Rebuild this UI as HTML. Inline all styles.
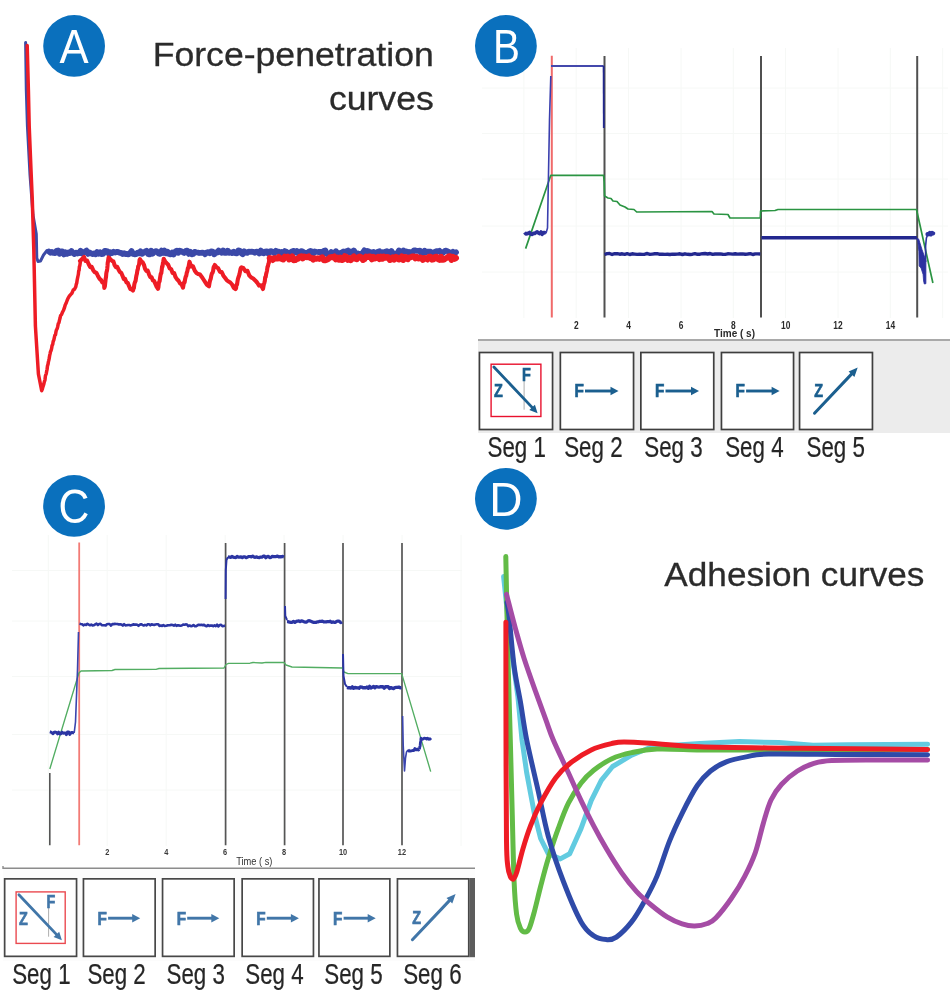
<!DOCTYPE html>
<html lang="en"><head><meta charset="utf-8"><title>Force-penetration and adhesion curves</title>
<style>
html,body{margin:0;padding:0;background:#fff;}
body{width:950px;height:998px;overflow:hidden;font-family:"Liberation Sans",sans-serif;}
svg{display:block;}
text{font-family:"Liberation Sans",sans-serif;}
.badge{fill:#fff;font-size:47.5px;text-anchor:middle;}
.ttl{fill:#2b2b2b;font-size:34px;stroke:#2b2b2b;stroke-width:0.3px;}
.seg{fill:#262626;font-size:29.2px;stroke:#262626;stroke-width:0.25px;}
.tick{fill:#2a2a2a;font-size:9.5px;font-weight:bold;text-anchor:middle;}
.ic{font-weight:bold;font-size:18px;stroke-width:0.7px;}
</style></head><body>
<svg width="950" height="998" viewBox="0 0 950 998">
<rect width="950" height="998" fill="#fff"/>

<g id="panelA" fill="none" stroke-linejoin="round" stroke-linecap="round">
<path d="M25.6 42.5 L26.3 90.0 L27.4 126.0 L30.0 175.0 L33.0 215.0 L36.3 234.0 L36.8 258.0 L38.0 261.5 L40.5 261.0 L43.5 255.0 L47.0 250.5 L49.0 252.5" stroke="#3d4ba6" stroke-width="3"/>
<path d="M49.0 251.5 L50.5 252.7 L52.0 252.0 L53.5 252.9 L55.0 253.0 L56.5 250.8 L58.0 250.5 L59.5 253.8 L61.0 251.5 L62.5 251.4 L64.0 254.5 L65.5 252.4 L67.0 253.8 L68.5 252.4 L70.0 253.0 L71.5 251.1 L73.0 253.0 L74.5 254.0 L76.0 252.6 L77.5 253.5 L79.0 253.2 L80.5 250.7 L82.0 253.5 L83.5 252.8 L85.0 251.7 L86.5 250.6 L88.0 253.9 L89.5 252.4 L91.1 253.4 L92.6 254.0 L94.1 253.3 L95.6 254.2 L97.1 252.1 L98.6 253.7 L100.1 252.3 L101.6 254.2 L103.1 254.0 L104.6 250.9 L106.1 251.0 L107.6 251.3 L109.1 254.3 L110.6 252.2 L112.1 253.0 L113.6 251.7 L115.1 252.5 L116.6 252.0 L118.1 251.9 L119.6 252.8 L121.1 252.8 L122.6 254.1 L124.1 253.2 L125.6 254.2 L127.1 253.9 L128.6 254.4 L130.1 253.1 L131.6 251.1 L133.1 253.9 L134.6 254.3 L136.1 254.1 L137.6 252.7 L139.1 253.3 L140.6 251.3 L142.1 253.8 L143.6 252.7 L145.1 251.6 L146.6 250.7 L148.1 253.9 L149.6 254.4 L151.1 250.8 L152.6 253.7 L154.1 252.1 L155.6 251.1 L157.1 251.6 L158.6 253.5 L160.1 253.9 L161.6 250.6 L163.1 252.9 L164.6 250.6 L166.1 253.3 L167.6 251.8 L169.1 254.0 L170.6 254.4 L172.2 252.5 L173.7 254.4 L175.2 251.7 L176.7 250.7 L178.2 252.8 L179.7 250.6 L181.2 251.2 L182.7 252.1 L184.2 252.9 L185.7 251.1 L187.2 250.6 L188.7 253.9 L190.2 251.7 L191.7 254.3 L193.2 254.0 L194.7 251.9 L196.2 252.3 L197.7 252.5 L199.2 253.0 L200.7 252.8 L202.2 252.7 L203.7 252.9 L205.2 254.2 L206.7 252.5 L208.2 252.1 L209.7 253.3 L211.2 251.4 L212.7 251.6 L214.2 254.3 L215.7 252.5 L217.2 252.6 L218.7 250.5 L220.2 252.1 L221.7 252.7 L223.2 250.5 L224.7 252.9 L226.2 252.9 L227.7 250.7 L229.2 252.9 L230.7 252.3 L232.2 253.1 L233.7 251.8 L235.2 253.2 L236.7 253.4 L238.2 250.5 L239.7 250.6 L241.2 253.1 L242.7 254.3 L244.2 251.4 L245.7 252.2 L247.2 252.8 L248.7 251.7 L250.2 251.9 L251.7 251.7 L253.3 251.9 L254.8 252.8 L256.3 251.6 L257.8 251.9 L259.3 253.5 L260.8 250.5 L262.3 252.7 L263.8 253.3 L265.3 251.6 L266.8 251.3 L268.3 253.6 L269.8 251.3 L271.3 251.1 L272.8 252.1 L274.3 253.2 L275.8 250.8 L277.3 251.7 L278.8 251.7 L280.3 253.7 L281.8 252.1 L283.3 253.8 L284.8 251.1 L286.3 251.7 L287.8 253.0 L289.3 253.9 L290.8 252.2 L292.3 251.3 L293.8 250.9 L295.3 252.5 L296.8 251.1 L298.3 253.6 L299.8 253.7 L301.3 251.1 L302.8 251.5 L304.3 253.6 L305.8 252.9 L307.3 253.6 L308.8 251.8 L310.3 250.9 L311.8 251.5 L313.3 253.5 L314.8 251.5 L316.3 251.8 L317.8 252.0 L319.3 252.0 L320.8 252.0 L322.3 254.0 L323.8 251.0 L325.3 250.4 L326.8 254.1 L328.3 253.9 L329.8 254.3 L331.3 252.1 L332.8 254.2 L334.4 254.1 L335.9 251.2 L337.4 253.3 L338.9 253.7 L340.4 253.0 L341.9 252.4 L343.4 251.5 L344.9 251.7 L346.4 251.3 L347.9 250.6 L349.4 252.7 L350.9 251.5 L352.4 253.6 L353.9 250.5 L355.4 254.0 L356.9 253.1 L358.4 254.0 L359.9 253.9 L361.4 253.9 L362.9 252.7 L364.4 250.4 L365.9 253.3 L367.4 251.0 L368.9 251.5 L370.4 253.0 L371.9 252.4 L373.4 252.0 L374.9 254.1 L376.4 252.8 L377.9 251.7 L379.4 251.3 L380.9 253.8 L382.4 252.2 L383.9 253.5 L385.4 251.7 L386.9 251.1 L388.4 252.5 L389.9 253.6 L391.4 251.0 L392.9 253.5 L394.4 254.0 L395.9 253.6 L397.4 253.6 L398.9 250.4 L400.4 252.8 L401.9 253.8 L403.4 250.5 L404.9 251.4 L406.4 251.4 L407.9 252.4 L409.4 252.0 L410.9 252.2 L412.4 253.4 L413.9 250.3 L415.5 250.5 L417.0 250.8 L418.5 250.8 L420.0 250.6 L421.5 254.2 L423.0 253.7 L424.5 250.7 L426.0 252.3 L427.5 251.6 L429.0 251.6 L430.5 251.7 L432.0 252.9 L433.5 252.7 L435.0 251.8 L436.5 251.1 L438.0 251.6 L439.5 250.8 L441.0 252.5 L442.5 253.2 L444.0 251.8 L445.5 250.6 L447.0 251.0 L448.5 251.8 L450.0 252.7 L451.5 253.4 L453.0 251.8 L454.5 253.5 L456.0 252.3" stroke="#3b49a8" stroke-width="5.8"/>
<path d="M27.2 45.5 L28.4 90.0 L29.2 126.0 L31.0 170.0 L32.3 200.0 L33.8 250.0 L35.4 326.0 L38.4 374.0 L41.7 390.7 L42.4 388.8 L43.0 386.6 L43.7 384.5 L44.3 381.8 L45.0 379.8 L45.4 376.1 L45.8 374.8 L46.3 373.6 L46.7 371.0 L47.1 369.3 L47.5 365.8 L48.0 364.4 L48.4 361.9 L48.8 360.4 L49.2 358.4 L49.7 355.3 L50.1 353.6 L50.5 351.6 L51.0 350.7 L51.6 348.5 L52.1 345.4 L52.7 344.5 L53.2 341.3 L53.8 340.2 L54.4 337.3 L54.9 335.1 L55.5 334.7 L56.0 331.5 L56.6 329.5 L57.1 328.9 L57.7 326.7 L58.3 323.6 L58.9 322.8 L59.5 320.1 L60.0 318.3 L60.6 315.5 L61.5 314.7 L62.5 312.1 L63.4 310.5 L64.3 308.2 L65.2 305.0 L66.2 303.0 L67.1 300.5 L68.0 298.4 L69.3 296.2 L70.6 294.6 L71.9 293.2 L73.2 290.1 L74.5 289.3 L75.8 286.7 L76.2 284.5 L76.7 283.2 L77.1 280.4 L77.6 277.9 L78.0 276.0 L78.4 274.2 L78.7 270.9 L79.1 270.4 L79.4 266.6 L79.8 265.7 L80.1 263.8 L80.5 261.0" stroke="#ee1c25" stroke-width="3.5"/>
<path d="M80.0 260.9 L82.0 259.1 L84.0 257.0 L85.5 261.0 L87.1 260.6 L88.6 264.0 L90.2 267.1 L91.7 266.8 L93.2 270.2 L94.8 272.3 L96.3 272.7 L97.8 275.7 L99.4 278.6 L100.9 279.9 L102.5 282.6 L104.0 283.0 L104.2 285.8 L104.3 287.9 L104.6 287.0 L104.9 286.1 L105.2 283.1 L105.4 281.5 L105.7 278.3 L106.0 277.3 L106.3 273.4 L106.6 271.9 L106.9 270.9 L107.2 269.0 L107.5 266.0 L107.7 263.0 L108.0 261.5 L108.3 259.3 L108.6 257.4 L112.0 260.9 L113.3 261.2 L114.6 265.1 L115.9 267.1 L117.2 266.8 L118.6 269.7 L119.9 272.0 L121.2 272.7 L122.5 275.8 L123.8 279.1 L125.1 278.9 L126.4 282.3 L127.8 282.9 L129.1 286.2 L130.4 289.1 L131.7 289.2 L133.0 290.6 L133.4 288.8 L133.9 288.0 L134.3 284.5 L134.8 282.6 L135.2 281.7 L135.6 280.8 L136.1 277.3 L136.5 275.2 L136.9 273.8 L137.4 270.2 L137.8 269.5 L138.2 266.3 L138.7 265.5 L139.1 264.4 L139.6 259.8 L140.0 259.2 L141.3 261.4 L142.6 262.2 L143.9 264.7 L145.1 268.8 L146.4 270.9 L147.7 270.6 L149.0 274.3 L150.3 277.1 L151.6 277.2 L152.9 280.4 L154.1 280.9 L155.4 283.9 L156.7 286.9 L158.0 288.8 L158.4 287.2 L158.8 283.2 L159.2 281.9 L159.6 281.2 L160.0 278.4 L160.4 275.9 L160.8 273.7 L161.3 273.3 L161.7 270.1 L162.1 266.4 L162.5 266.6 L162.9 263.2 L163.3 261.4 L163.7 258.7 L165.2 261.5 L166.7 263.2 L168.2 264.7 L169.6 268.3 L171.1 269.0 L172.6 273.0 L174.1 273.0 L175.6 277.2 L177.1 279.4 L178.5 280.6 L180.0 283.4 L181.5 284.2 L183.0 287.7 L183.5 284.8 L184.1 282.2 L184.6 282.3 L185.2 278.7 L185.7 276.6 L186.2 276.0 L186.8 272.6 L187.3 271.5 L187.9 268.1 L188.4 268.0 L189.0 264.3 L189.5 261.7 L191.2 266.5 L193.0 266.4 L194.8 270.7 L196.5 273.0 L198.2 274.1 L200.0 274.6 L201.8 276.9 L203.5 279.5 L205.2 282.1 L207.0 284.9 L209.0 286.3 L209.6 282.5 L210.2 279.9 L210.7 279.0 L211.3 275.7 L211.9 273.5 L212.5 272.8 L213.1 271.1 L213.6 267.3 L214.2 266.3 L214.8 265.0 L216.5 267.3 L218.2 268.3 L220.0 271.9 L221.7 272.0 L223.4 275.7 L225.2 278.0 L226.9 280.4 L228.6 281.5 L230.3 282.5 L232.1 284.5 L233.8 287.9 L235.5 289.1 L236.0 288.4 L236.5 284.8 L237.0 284.8 L237.5 281.2 L238.0 278.6 L238.5 277.1 L239.0 275.9 L239.5 274.2 L240.0 271.7 L240.5 269.1 L241.0 267.9 L241.5 267.3 L243.5 268.2 L245.4 271.3 L247.4 270.8 L249.3 275.6 L251.3 277.4 L253.2 278.5 L255.2 280.4 L257.1 282.5 L259.1 285.6 L261.0 285.3 L263.0 289.0 L263.4 286.7 L263.9 284.0 L264.3 283.1 L264.8 281.1 L265.2 277.3 L265.7 276.9 L266.1 274.2 L266.6 272.3 L267.0 270.6 L267.5 266.9 L267.9 266.4 L268.4 263.8 L268.8 263.1 L269.3 259.3 L269.7 258.0" stroke="#ee1c25" stroke-width="4.1"/>
<path d="M269.7 258.1 L271.2 258.5 L272.7 260.0 L274.2 258.2 L275.7 258.3 L277.2 258.6 L278.7 257.0 L280.2 258.3 L281.7 258.8 L283.2 259.5 L284.7 256.7 L286.2 257.5 L287.7 256.6 L289.2 259.5 L290.7 259.0 L292.2 256.4 L293.7 260.2 L295.2 260.1 L296.7 258.9 L298.2 258.7 L299.7 256.9 L301.3 256.3 L302.8 258.4 L304.3 256.5 L305.8 257.0 L307.3 257.2 L308.8 256.4 L310.3 258.1 L311.8 258.0 L313.3 259.6 L314.8 258.3 L316.3 258.8 L317.8 258.2 L319.3 258.9 L320.8 258.0 L322.3 257.3 L323.8 260.2 L325.3 260.2 L326.8 259.6 L328.3 259.0 L329.8 257.5 L331.3 257.1 L332.8 257.4 L334.3 256.5 L335.8 259.3 L337.3 257.8 L338.8 259.6 L340.3 257.7 L341.8 260.0 L343.3 259.6 L344.8 256.2 L346.3 257.0 L347.8 259.8 L349.3 258.1 L350.8 260.1 L352.3 257.8 L353.8 256.5 L355.3 258.7 L356.8 259.3 L358.3 257.2 L359.8 256.5 L361.3 257.5 L362.9 260.0 L364.4 259.2 L365.9 256.6 L367.4 257.1 L368.9 256.5 L370.4 256.4 L371.9 259.3 L373.4 256.8 L374.9 258.4 L376.4 257.9 L377.9 256.9 L379.4 259.1 L380.9 256.6 L382.4 258.7 L383.9 256.6 L385.4 257.8 L386.9 257.0 L388.4 257.2 L389.9 260.0 L391.4 259.3 L392.9 257.3 L394.4 259.6 L395.9 256.9 L397.4 257.7 L398.9 259.5 L400.4 258.7 L401.9 256.5 L403.4 260.0 L404.9 256.9 L406.4 257.1 L407.9 259.2 L409.4 257.4 L410.9 257.3 L412.4 256.4 L413.9 256.4 L415.4 258.4 L416.9 257.0 L418.4 258.5 L419.9 257.5 L421.4 257.9 L422.9 259.9 L424.4 258.0 L426.0 258.3 L427.5 259.5 L429.0 256.8 L430.5 256.7 L432.0 259.7 L433.5 259.3 L435.0 257.0 L436.5 256.8 L438.0 259.0 L439.5 259.8 L441.0 256.8 L442.5 259.8 L444.0 259.5 L445.5 258.4 L447.0 257.7 L448.5 256.4 L450.0 256.2 L451.5 259.9 L453.0 257.0 L454.5 258.8 L456.0 258.0" stroke="#ee1c25" stroke-width="6"/>
</g>
<circle cx="74.1" cy="45.95" r="30.9" fill="#0a70bd"/>
<text class="badge" transform="translate(74.1 63.050000000000004) scale(0.92 1)">A</text>
<text class="ttl" transform="translate(433.8 66.3) scale(1.048 1)" text-anchor="end">Force-penetration</text>
<text class="ttl" transform="translate(433.8 109.8) scale(1.048 1)" text-anchor="end">curves</text>
<g stroke="#f6f8f6" stroke-width="1">
<line x1="523.9" y1="48" x2="523.9" y2="318"/>
<line x1="576.2" y1="48" x2="576.2" y2="318"/>
<line x1="628.6" y1="48" x2="628.6" y2="318"/>
<line x1="681.0" y1="48" x2="681.0" y2="318"/>
<line x1="733.3" y1="48" x2="733.3" y2="318"/>
<line x1="785.6" y1="48" x2="785.6" y2="318"/>
<line x1="838.0" y1="48" x2="838.0" y2="318"/>
<line x1="890.3" y1="48" x2="890.3" y2="318"/>
<line x1="942.7" y1="48" x2="942.7" y2="318"/>
<line x1="482" y1="88" x2="948" y2="88"/>
<line x1="482" y1="133.5" x2="948" y2="133.5"/>
<line x1="482" y1="179" x2="948" y2="179"/>
<line x1="482" y1="226" x2="948" y2="226"/>
<line x1="482" y1="272" x2="948" y2="272"/>
</g>
<g id="panelB" fill="none" stroke-linejoin="round">
<line x1="604.5" y1="56" x2="604.5" y2="317.6" stroke="#505050" stroke-width="2"/>
<line x1="761.0" y1="56" x2="761.0" y2="317.6" stroke="#505050" stroke-width="2"/>
<line x1="917.2" y1="56" x2="917.2" y2="317.6" stroke="#505050" stroke-width="2"/>
<line x1="551.8" y1="55.8" x2="551.8" y2="317.6" stroke="#f06a6a" stroke-width="2"/>
<path d="M525.6 248.6 L550.8 175.3 L603.6 175.3 L604.2 182.0 L604.6 196.0 L608.0 198.0 L611.0 198.5 L613.0 201.0 L617.0 201.5 L620.0 205.0 L625.0 207.0 L628.0 209.0 L634.0 209.5 L636.7 212.0 L712.0 211.5 L714.0 214.0 L728.0 214.5 L730.0 218.0 L760.3 218.0 L760.6 211.0 L775.0 210.5 L778.0 209.5 L916.5 209.5 L932.9 283.0" stroke="#2a9442" stroke-width="1.7"/>
<path d="M524.6 232.3 L525.9 234.0 L527.1 233.8 L528.4 233.3 L529.6 232.5 L530.9 234.3 L532.2 234.4 L533.4 233.4 L534.7 233.4 L535.9 232.6 L537.2 231.8 L538.4 233.0 L539.7 233.7 L541.0 232.0 L542.2 234.3 L543.5 232.5 L544.7 232.5 L546.0 233.4" stroke="#2a2f9a" stroke-width="3.6"/>
<path d="M546 233.4 L547.5 228 L549.5 120 L550.8 76" stroke="#3a3fae" stroke-width="1.6"/>
<path d="M551 66 L603.6 66" stroke="#4448ac" stroke-width="2.2"/>
<path d="M603.6 65.7 L603.8 128" stroke="#23288f" stroke-width="1.8"/>
<path d="M604.6 254.5 L607.1 253.6 L609.6 253.5 L612.1 254.5 L614.6 253.7 L617.2 253.6 L619.7 254.2 L622.2 253.8 L624.7 254.4 L627.2 253.7 L629.7 254.5 L632.2 253.8 L634.7 254.1 L637.2 254.4 L639.8 254.2 L642.3 254.4 L644.8 254.2 L647.3 253.5 L649.8 254.4 L652.3 254.1 L654.8 253.8 L657.3 253.7 L659.8 254.3 L662.4 254.1 L664.9 254.4 L667.4 254.3 L669.9 254.5 L672.4 254.1 L674.9 254.2 L677.4 254.1 L679.9 253.8 L682.5 254.5 L685.0 253.8 L687.5 254.3 L690.0 254.5 L692.5 254.2 L695.0 253.6 L697.5 254.3 L700.0 254.2 L702.5 253.7 L705.1 253.5 L707.6 254.0 L710.1 253.5 L712.6 254.4 L715.1 254.0 L717.6 254.0 L720.1 253.9 L722.6 254.2 L725.1 254.4 L727.7 253.8 L730.2 253.9 L732.7 254.1 L735.2 253.8 L737.7 254.1 L740.2 254.0 L742.7 253.9 L745.2 254.2 L747.7 254.0 L750.3 253.6 L752.8 254.5 L755.3 253.9 L757.8 253.9 L760.3 254.0" stroke="#23288f" stroke-width="3.4"/>
<path d="M761.5 237.8 L917 237.8" stroke="#23288f" stroke-width="3.4"/>
<path d="M917.4 238 L918.9 251.7 L919.2 266 L921 268 L923.1 274.5 L923.6 281 L924.3 284 L925.9 283.7 L925.9 260.6 L922 249.5 L918.9 239.6 Z" fill="#2b30a0" stroke="#2b30a0" stroke-width="0.8"/>
<path d="M925.6 262 L925.6 246 L926.4 238 L928 234" stroke="#2d33a0" stroke-width="1.6"/>
<path d="M927.5 234.1 L928.6 234.3 L929.8 233.1 L930.9 234.4 L932.1 233.0 L933.2 233.4" stroke="#2d33a0" stroke-width="4.2" stroke-linecap="round"/>
</g>
<text class="tick" transform="translate(576.3 328.5) scale(0.8 1)" style="font-size:10.5px">2</text>
<text class="tick" transform="translate(628.6 328.5) scale(0.8 1)" style="font-size:10.5px">4</text>
<text class="tick" transform="translate(681.0 328.5) scale(0.8 1)" style="font-size:10.5px">6</text>
<text class="tick" transform="translate(733.3 328.5) scale(0.8 1)" style="font-size:10.5px">8</text>
<text class="tick" transform="translate(785.7 328.5) scale(0.8 1)" style="font-size:10.5px">10</text>
<text class="tick" transform="translate(838.0 328.5) scale(0.8 1)" style="font-size:10.5px">12</text>
<text class="tick" transform="translate(890.4 328.5) scale(0.8 1)" style="font-size:10.5px">14</text>
<text class="tick" x="734.5" y="337.4" style="font-size:10px">Time ( s)</text>
<rect x="478" y="339" width="472" height="94" fill="#ececec"/>
<rect x="478" y="339" width="472" height="2" fill="#a9a9a9"/>
<rect x="479.45" y="352.5" width="73.10" height="77" fill="#fff" stroke="#3e3e3e" stroke-width="1.7"/>
<rect x="560.35" y="352.5" width="73.20" height="77" fill="#fff" stroke="#3e3e3e" stroke-width="1.7"/>
<rect x="640.85" y="352.5" width="72.90" height="77" fill="#fff" stroke="#3e3e3e" stroke-width="1.7"/>
<rect x="721.45" y="352.5" width="72.10" height="77" fill="#fff" stroke="#3e3e3e" stroke-width="1.7"/>
<rect x="799.55" y="352.5" width="72.90" height="77" fill="#fff" stroke="#3e3e3e" stroke-width="1.7"/>
<rect x="491.1" y="364.2" width="49.8" height="52.3" fill="none" stroke="#e8112d" stroke-width="1.4"/>
<line x1="524.1" y1="380.2" x2="524.1" y2="409.7" stroke="#999" stroke-width="0.8"/>
<line x1="493.9" y1="367.0" x2="532.1" y2="407.4" stroke="#1b5f8f" stroke-width="2.8" stroke-linecap="round"/>
<path d="M537.6 413.2 L529.3 410.0 L534.9 404.8 Z" fill="#1b5f8f"/>
<text class="ic" fill="#1b5f8f" stroke="#1b5f8f" transform="translate(494.1 397.4) scale(0.8 1)">Z</text>
<text class="ic" fill="#1b5f8f" stroke="#1b5f8f" transform="translate(522.1 380.6) scale(0.8 1)">F</text>
<text class="ic" fill="#1b5f8f" stroke="#1b5f8f" transform="translate(574.5 397.4) scale(0.85 1)">F</text>
<line x1="585.0" y1="391.0" x2="611.5" y2="391.0" stroke="#1b5f8f" stroke-width="2.9"/>
<path d="M618.5 391.0 L610.5 386.8 L610.5 395.2 Z" fill="#1b5f8f"/>
<text class="ic" fill="#1b5f8f" stroke="#1b5f8f" transform="translate(655.0 397.4) scale(0.85 1)">F</text>
<line x1="665.5" y1="391.0" x2="692.0" y2="391.0" stroke="#1b5f8f" stroke-width="2.9"/>
<path d="M699.0 391.0 L691.0 386.8 L691.0 395.2 Z" fill="#1b5f8f"/>
<text class="ic" fill="#1b5f8f" stroke="#1b5f8f" transform="translate(735.6 397.4) scale(0.85 1)">F</text>
<line x1="746.1" y1="391.0" x2="772.6" y2="391.0" stroke="#1b5f8f" stroke-width="2.9"/>
<path d="M779.6 391.0 L771.6 386.8 L771.6 395.2 Z" fill="#1b5f8f"/>
<line x1="814.5" y1="413.2" x2="851.5" y2="374.1" stroke="#1b5f8f" stroke-width="3" stroke-linecap="round"/>
<path d="M857.7 367.6 L854.4 376.9 L848.6 371.4 Z" fill="#1b5f8f"/>
<text class="ic" fill="#1b5f8f" stroke="#1b5f8f" transform="translate(814.3 397.4) scale(0.8 1)">Z</text>
<text class="seg" transform="translate(487.5 457.3) scale(0.765 1)">Seg 1</text>
<text class="seg" transform="translate(564.2 457.3) scale(0.765 1)">Seg 2</text>
<text class="seg" transform="translate(644.3 457.3) scale(0.765 1)">Seg 3</text>
<text class="seg" transform="translate(725.2 457.3) scale(0.765 1)">Seg 4</text>
<text class="seg" transform="translate(806.5 457.3) scale(0.765 1)">Seg 5</text>
<circle cx="505.9" cy="45.95" r="30.9" fill="#0a70bd"/>
<text class="badge" transform="translate(506.4 62.9) scale(0.85 1)">B</text>
<g stroke="#f6f8f6" stroke-width="1">
<line x1="48.3" y1="535" x2="48.3" y2="846"/>
<line x1="107.2" y1="535" x2="107.2" y2="846"/>
<line x1="166.2" y1="535" x2="166.2" y2="846"/>
<line x1="225.2" y1="535" x2="225.2" y2="846"/>
<line x1="284.1" y1="535" x2="284.1" y2="846"/>
<line x1="343.1" y1="535" x2="343.1" y2="846"/>
<line x1="402.0" y1="535" x2="402.0" y2="846"/>
<line x1="461.0" y1="535" x2="461.0" y2="846"/>
<line x1="12" y1="570.5" x2="462" y2="570.5"/>
<line x1="12" y1="621" x2="462" y2="621"/>
<line x1="12" y1="676.5" x2="462" y2="676.5"/>
<line x1="12" y1="734.5" x2="462" y2="734.5"/>
<line x1="12" y1="790" x2="462" y2="790"/>
</g>
<g id="panelC" fill="none" stroke-linejoin="round">
<line x1="225.6" y1="543" x2="225.6" y2="845.2" stroke="#555" stroke-width="1.7"/>
<line x1="284.6" y1="543" x2="284.6" y2="845.2" stroke="#555" stroke-width="1.7"/>
<line x1="343.0" y1="543" x2="343.0" y2="845.2" stroke="#555" stroke-width="1.7"/>
<line x1="402.0" y1="543" x2="402.0" y2="845.2" stroke="#555" stroke-width="1.7"/>
<line x1="49.8" y1="773" x2="49.8" y2="845.2" stroke="#555" stroke-width="1.6"/>
<line x1="79.2" y1="542.6" x2="79.2" y2="845.2" stroke="#f27b76" stroke-width="1.8"/>
<path d="M49.8 769.0 L78.9 673.0 L81.0 671.0 L112.0 670.5 L115.0 669.5 L156.0 669.3 L159.0 668.5 L224.0 668.0 L226.0 664.5 L228.5 663.3 L250.0 663.2 L253.0 662.5 L262.0 663.0 L266.0 662.3 L284.0 662.5 L286.0 665.0 L292.0 667.0 L342.5 668.0 L344.0 672.0 L348.0 673.6 L401.7 673.6 L430.7 771.6" stroke="#52ad62" stroke-width="1.35"/>
<path d="M49.8 731.8 L50.9 732.1 L52.0 732.9 L53.1 733.7 L54.2 732.2 L55.3 732.1 L56.5 732.4 L57.6 733.9 L58.7 732.2 L59.8 733.9 L60.9 733.7 L62.0 732.2 L63.1 733.3 L64.2 733.1 L65.3 733.0 L66.4 734.6 L67.5 732.1 L68.7 731.9 L69.8 734.4 L70.9 732.9 L72.0 732.4 L73.1 732.7 L74.2 733.2" stroke="#2b35a3" stroke-width="3"/>
<path d="M74.2 733 L75.5 722 L77.5 670 L78.5 632" stroke="#3a44ae" stroke-width="1.6"/>
<path d="M79.5 623.7 L80.8 624.0 L82.1 624.2 L83.4 625.3 L84.7 624.5 L86.1 624.9 L87.4 623.8 L88.7 624.6 L90.0 625.2 L91.3 624.6 L92.6 625.4 L93.9 625.3 L95.2 624.4 L96.5 623.7 L97.9 625.1 L99.2 624.0 L100.5 623.8 L101.8 625.1 L103.1 625.3 L104.4 625.3 L105.7 625.5 L107.0 624.2 L108.3 624.0 L109.6 624.0 L111.0 625.6 L112.3 624.0 L113.6 624.1 L114.9 623.9 L116.2 624.0 L117.5 624.0 L118.8 624.5 L120.1 624.2 L121.4 624.5 L122.8 625.6 L124.1 624.2 L125.4 625.4 L126.7 625.3 L128.0 625.0 L129.3 625.0 L130.6 625.4 L131.9 625.1 L133.2 624.4 L134.6 624.6 L135.9 624.5 L137.2 624.8 L138.5 625.8 L139.8 624.8 L141.1 624.2 L142.4 624.9 L143.7 625.5 L145.0 624.9 L146.4 625.4 L147.7 624.3 L149.0 624.2 L150.3 625.3 L151.6 624.2 L152.9 624.7 L154.2 624.9 L155.5 624.5 L156.8 624.3 L158.1 624.2 L159.5 625.9 L160.8 625.5 L162.1 625.9 L163.4 625.1 L164.7 626.0 L166.0 625.8 L167.3 625.4 L168.6 625.2 L169.9 625.2 L171.3 624.7 L172.6 625.0 L173.9 625.6 L175.2 624.7 L176.5 625.9 L177.8 625.3 L179.1 625.4 L180.4 625.8 L181.7 625.5 L183.1 624.6 L184.4 624.8 L185.7 624.4 L187.0 624.5 L188.3 626.1 L189.6 625.5 L190.9 626.2 L192.2 625.9 L193.5 625.0 L194.9 626.2 L196.2 626.1 L197.5 625.3 L198.8 624.7 L200.1 625.1 L201.4 624.8 L202.7 625.2 L204.0 624.7 L205.3 625.8 L206.6 626.3 L208.0 625.0 L209.3 626.0 L210.6 625.6 L211.9 625.5 L213.2 626.2 L214.5 625.3 L215.8 626.1 L217.1 624.7 L218.4 626.4 L219.8 625.0 L221.1 624.7 L222.4 626.3 L223.7 626.0 L225.0 625.6" stroke="#2b35a3" stroke-width="2.6"/>
<path d="M225.6 599 L225.8 570 L226.5 560 L228 557" stroke="#2b35a3" stroke-width="2"/>
<path d="M228.0 556.9 L229.3 557.0 L230.6 557.4 L231.9 556.4 L233.2 557.1 L234.5 557.5 L235.8 557.6 L237.1 556.3 L238.4 557.1 L239.7 557.1 L241.0 556.9 L242.3 557.7 L243.6 556.9 L244.9 556.8 L246.2 557.7 L247.5 557.1 L248.8 556.5 L250.1 556.5 L251.4 556.9 L252.7 556.1 L254.0 557.1 L255.3 557.3 L256.7 556.8 L258.0 557.5 L259.3 557.7 L260.6 557.0 L261.9 557.2 L263.2 556.2 L264.5 556.1 L265.8 557.8 L267.1 556.6 L268.4 556.4 L269.7 557.7 L271.0 557.4 L272.3 556.3 L273.6 556.6 L274.9 556.5 L276.2 556.6 L277.5 556.1 L278.8 557.0 L280.1 556.6 L281.4 556.8 L282.7 556.4 L284.0 557.0" stroke="#2b35a3" stroke-width="3.2"/>
<path d="M285 606 L285.3 616 L287 620" stroke="#2b35a3" stroke-width="2"/>
<path d="M287.0 621.6 L288.3 621.7 L289.6 622.2 L290.9 622.3 L292.2 622.3 L293.5 621.3 L294.9 622.4 L296.2 621.4 L297.5 621.2 L298.8 620.8 L300.1 621.6 L301.4 620.9 L302.7 621.1 L304.0 621.8 L305.3 622.2 L306.6 622.1 L308.0 620.8 L309.3 620.7 L310.6 621.1 L311.9 621.7 L313.2 622.3 L314.5 622.3 L315.8 622.5 L317.1 621.8 L318.4 621.9 L319.7 621.3 L321.0 621.3 L322.4 621.1 L323.7 621.8 L325.0 621.9 L326.3 621.9 L327.6 621.5 L328.9 621.6 L330.2 621.2 L331.5 622.4 L332.8 621.9 L334.1 622.3 L335.5 622.4 L336.8 621.3 L338.1 621.0 L339.4 621.4 L340.7 622.6 L342.0 621.8" stroke="#2b35a3" stroke-width="3.2"/>
<path d="M343 654 L343.5 676 L345 684 L347 687" stroke="#2b35a3" stroke-width="2"/>
<path d="M347.0 687.4 L348.3 687.8 L349.7 687.8 L351.0 688.1 L352.3 686.9 L353.6 688.3 L355.0 687.5 L356.3 687.8 L357.6 687.9 L359.0 688.2 L360.3 686.9 L361.6 687.1 L363.0 687.8 L364.3 687.6 L365.6 687.9 L366.9 687.1 L368.3 688.3 L369.6 686.4 L370.9 687.9 L372.3 687.2 L373.6 686.5 L374.9 687.8 L376.2 686.6 L377.6 686.9 L378.9 687.1 L380.2 686.8 L381.6 686.8 L382.9 686.6 L384.2 688.2 L385.5 686.7 L386.9 686.8 L388.2 686.7 L389.5 688.4 L390.9 687.6 L392.2 688.2 L393.5 688.5 L394.9 687.6 L396.2 687.4 L397.5 687.4 L398.8 687.1 L400.2 687.8 L401.5 687.6" stroke="#2b35a3" stroke-width="3.4"/>
<path d="M402.6 716 L403.2 745 L404.5 771 L405.5 758 L406.5 752 L408 750" stroke="#3a44ae" stroke-width="1.6"/>
<path d="M408.0 749.6 L409.1 751.1 L410.3 751.0 L411.4 750.9 L412.6 750.5 L413.8 750.7 L414.9 748.5 L416.1 750.0 L417.2 749.0 L418.4 750.1 L419.5 749.5" stroke="#2b35a3" stroke-width="2.8"/>
<path d="M419.5 749.4 L419.7 746.9 L419.8 747.1 L420.0 746.5 L420.2 745.4 L420.3 743.5 L420.5 742.6 L420.7 740.9 L420.8 740.2 L421.0 738.1 L422.1 739.3 L423.2 739.0 L424.3 738.1 L425.4 738.3 L426.6 739.0 L427.7 738.2 L428.8 739.3 L429.9 739.2 L431.0 738.0" stroke="#2b35a3" stroke-width="2.8"/>
</g>
<text class="tick" transform="translate(107.2 854.8) scale(0.78 1)" style="fill:#3a3a3a;font-size:9.5px">2</text>
<text class="tick" transform="translate(166.2 854.8) scale(0.78 1)" style="fill:#3a3a3a;font-size:9.5px">4</text>
<text class="tick" transform="translate(225.1 854.8) scale(0.78 1)" style="fill:#3a3a3a;font-size:9.5px">6</text>
<text class="tick" transform="translate(284.1 854.8) scale(0.78 1)" style="fill:#3a3a3a;font-size:9.5px">8</text>
<text class="tick" transform="translate(343.0 854.8) scale(0.78 1)" style="fill:#3a3a3a;font-size:9.5px">10</text>
<text class="tick" transform="translate(401.9 854.8) scale(0.78 1)" style="fill:#3a3a3a;font-size:9.5px">12</text>
<text class="tick" transform="translate(254.3 865.3) scale(0.93 1)" style="font-size:10px;fill:#333;font-weight:normal">Time ( s)</text>
<path d="M3 866 L3 868.3 L475 868.3" fill="none" stroke="#8c8c8c" stroke-width="1.4"/>
<rect x="3" y="869" width="472" height="92" fill="#fcfcfc"/>
<rect x="4.65" y="878.85" width="71.90" height="77.5" fill="#fff" stroke="#474747" stroke-width="1.7"/>
<rect x="83.45" y="878.85" width="71.70" height="77.5" fill="#fff" stroke="#474747" stroke-width="1.7"/>
<rect x="162.55" y="878.85" width="71.60" height="77.5" fill="#fff" stroke="#474747" stroke-width="1.7"/>
<rect x="242.15" y="878.85" width="71.30" height="77.5" fill="#fff" stroke="#474747" stroke-width="1.7"/>
<rect x="318.95" y="878.85" width="70.90" height="77.5" fill="#fff" stroke="#474747" stroke-width="1.7"/>
<rect x="397.45" y="878.85" width="71.30" height="77.5" fill="#fff" stroke="#474747" stroke-width="1.7"/>
<rect x="469.4" y="878" width="5.6" height="79.2" fill="#5c5c5c"/>
<rect x="16.1" y="891.9" width="49.1" height="51.5" fill="none" stroke="#ea4a50" stroke-width="1.4"/>
<line x1="48.6" y1="907.7" x2="48.6" y2="936.7" stroke="#999" stroke-width="0.8"/>
<line x1="18.9" y1="894.7" x2="56.4" y2="934.4" stroke="#4176a8" stroke-width="2.8" stroke-linecap="round"/>
<path d="M61.9 940.2 L53.6 937.0 L59.2 931.7 Z" fill="#4176a8"/>
<text class="ic" fill="#4176a8" stroke="#4176a8" transform="translate(19.1 924.6) scale(0.8 1)">Z</text>
<text class="ic" fill="#4176a8" stroke="#4176a8" transform="translate(46.6 908.1) scale(0.8 1)">F</text>
<text class="ic" fill="#4176a8" stroke="#4176a8" transform="translate(97.6 924.6) scale(0.85 1)">F</text>
<line x1="108.1" y1="918.2" x2="133.2" y2="918.2" stroke="#4176a8" stroke-width="2.9"/>
<path d="M140.2 918.2 L132.2 914.0 L132.2 922.4 Z" fill="#4176a8"/>
<text class="ic" fill="#4176a8" stroke="#4176a8" transform="translate(176.7 924.6) scale(0.85 1)">F</text>
<line x1="187.2" y1="918.2" x2="212.3" y2="918.2" stroke="#4176a8" stroke-width="2.9"/>
<path d="M219.3 918.2 L211.3 914.0 L211.3 922.4 Z" fill="#4176a8"/>
<text class="ic" fill="#4176a8" stroke="#4176a8" transform="translate(256.3 924.6) scale(0.85 1)">F</text>
<line x1="266.8" y1="918.2" x2="291.9" y2="918.2" stroke="#4176a8" stroke-width="2.9"/>
<path d="M298.9 918.2 L290.9 914.0 L290.9 922.4 Z" fill="#4176a8"/>
<text class="ic" fill="#4176a8" stroke="#4176a8" transform="translate(333.1 924.6) scale(0.85 1)">F</text>
<line x1="343.6" y1="918.2" x2="368.7" y2="918.2" stroke="#4176a8" stroke-width="2.9"/>
<path d="M375.7 918.2 L367.7 914.0 L367.7 922.4 Z" fill="#4176a8"/>
<line x1="412.4" y1="939.7" x2="449.4" y2="900.6" stroke="#4176a8" stroke-width="3" stroke-linecap="round"/>
<path d="M455.6 894.1 L452.3 903.4 L446.5 897.9 Z" fill="#4176a8"/>
<text class="ic" fill="#4176a8" stroke="#4176a8" transform="translate(412.2 923.9) scale(0.8 1)">Z</text>
<text class="seg" transform="translate(12.2 983.6) scale(0.765 1)">Seg 1</text>
<text class="seg" transform="translate(87.4 983.6) scale(0.765 1)">Seg 2</text>
<text class="seg" transform="translate(166.5 983.6) scale(0.765 1)">Seg 3</text>
<text class="seg" transform="translate(245.3 983.6) scale(0.765 1)">Seg 4</text>
<text class="seg" transform="translate(324.3 983.6) scale(0.765 1)">Seg 5</text>
<text class="seg" transform="translate(403.2 983.6) scale(0.765 1)">Seg 6</text>
<circle cx="74.05" cy="505.95" r="30.9" fill="#0a70bd"/>
<text class="badge" transform="translate(74.05 523.05) scale(0.9 1)">C</text>
<g id="panelD" fill="none" stroke-linejoin="round" stroke-linecap="round" stroke-width="5">
<path d="M503.6 576.6 L510.3 641.0 L517.9 696.6 L522.0 740.0 L526.7 772.8 L534.3 813.3 L540.6 838.5 L548.2 853.7 L560.3 858.9 L569.7 853.7 L581.1 828.4 L591.2 800.6 L601.3 780.4 L612.6 766.5 L631.6 755.2 L651.8 746.8 L700.0 743.4 L739.5 741.6 L779.0 742.6 L813.0 745.3 L847.4 744.7 L927.6 744.2" stroke="#62cbe0"/>
<path d="M505.8 556.6 C506.2 573.8 507.2 629.4 508.0 660.0 C508.8 690.6 509.6 714.0 510.3 740.0 C511.0 766.0 511.7 792.2 512.3 815.8 C512.9 839.4 513.4 865.1 514.1 881.5 C514.8 897.9 515.6 906.5 516.6 914.3 C517.6 922.1 519.0 925.2 520.4 928.2 C521.8 931.2 523.5 932.0 525.0 932.0 C526.5 932.0 527.8 931.6 529.3 928.2 C530.8 924.8 532.4 918.8 534.3 911.8 C536.2 904.8 538.3 895.4 540.6 886.5 C542.9 877.6 545.2 868.4 548.2 858.7 C551.2 849.0 554.9 837.6 558.3 828.4 C561.7 819.1 564.6 810.8 568.4 803.2 C572.2 795.6 576.9 788.5 581.1 783.0 C585.3 777.5 588.7 774.3 593.7 770.3 C598.8 766.3 605.1 761.8 611.4 758.9 C617.7 756.0 624.0 754.2 631.6 752.6 C639.2 751.0 645.5 749.5 656.9 749.0 C668.3 748.5 686.1 749.7 700.0 749.9 C713.9 750.1 726.7 750.1 740.0 750.1 C753.3 750.1 748.7 750.0 780.0 749.9 C811.3 749.8 903.0 749.6 927.6 749.5" stroke="#62bb46"/>
<path d="M507.0 602.3 C507.3 604.5 507.8 605.1 509.0 615.8 C510.2 626.5 512.2 652.0 514.1 666.3 C516.0 680.6 518.3 689.4 520.4 701.7 C522.5 714.0 523.8 725.2 526.7 740.0 C529.7 754.8 534.5 774.5 538.1 790.5 C541.7 806.5 544.0 820.8 548.2 836.0 C552.4 851.2 557.9 867.2 563.4 881.5 C568.9 895.8 576.0 912.9 581.1 921.9 C586.2 930.9 589.5 932.8 593.7 935.8 C597.9 938.8 602.5 939.4 606.3 939.6 C610.1 939.8 612.2 940.1 616.4 937.1 C620.6 934.1 627.0 927.8 631.6 921.9 C636.2 916.0 640.0 909.3 644.2 901.7 C648.4 894.1 652.7 886.5 656.9 876.4 C661.1 866.3 665.3 851.6 669.5 841.1 C673.7 830.6 677.5 822.6 682.1 813.3 C686.7 804.0 692.6 792.5 697.3 785.5 C702.0 778.5 705.7 775.0 710.5 771.0 C715.3 767.0 720.1 764.2 726.3 761.8 C732.4 759.4 740.4 757.9 747.4 756.6 C754.4 755.3 751.3 754.4 768.4 754.0 C785.5 753.6 823.5 754.4 850.0 754.5 C876.5 754.6 914.7 754.7 927.6 754.7" stroke="#2f4aa8"/>
<path d="M506.5 594.3 C508.0 600.0 512.4 617.7 515.4 628.4 C518.4 639.1 520.8 648.2 524.2 658.7 C527.6 669.2 532.0 681.5 535.6 691.6 C539.2 701.7 542.8 711.3 545.7 719.4 C548.7 727.5 549.5 731.1 553.3 740.0 C557.1 748.9 563.8 762.7 568.4 772.8 C573.0 782.9 576.9 791.8 581.1 800.6 C585.3 809.5 589.5 817.9 593.7 825.9 C597.9 833.9 601.7 840.8 606.3 848.6 C610.9 856.4 616.5 865.4 621.5 872.6 C626.5 879.8 631.6 886.1 636.6 891.6 C641.6 897.1 646.7 901.3 651.8 905.5 C656.9 909.7 662.0 913.8 667.0 916.9 C672.0 920.0 677.5 922.4 682.1 923.9 C686.7 925.4 690.5 926.1 694.7 926.0 C698.9 925.9 703.9 924.8 707.4 923.5 C710.9 922.2 711.8 922.2 715.8 918.0 C719.8 913.8 726.8 905.0 731.6 898.0 C736.4 891.0 740.8 883.9 744.7 876.3 C748.7 868.7 752.2 861.4 755.3 852.6 C758.4 843.8 760.6 832.5 763.2 823.7 C765.8 814.9 767.9 806.6 771.0 800.0 C774.1 793.4 777.2 789.0 781.6 784.2 C786.0 779.4 792.1 774.4 797.4 771.0 C802.7 767.6 807.5 765.4 813.2 763.6 C818.9 761.9 820.5 761.1 831.6 760.5 C842.7 759.9 864.0 760.1 880.0 760.0 C896.0 759.9 919.7 760.0 927.6 760.0" stroke="#a54ca5"/>
<path d="M505.9 622.3 C505.9 641.9 505.9 703.5 506.0 740.0 C506.1 776.5 506.2 820.0 506.5 841.0 C506.8 862.0 507.2 860.4 507.8 866.3 C508.4 872.2 509.4 874.3 510.3 876.4 C511.2 878.5 512.4 879.6 513.4 879.0 C514.4 878.4 515.0 877.7 516.6 872.6 C518.2 867.5 520.7 856.4 523.0 848.6 C525.3 840.8 527.6 833.5 530.5 825.9 C533.4 818.3 536.4 811.2 540.6 803.2 C544.8 795.2 550.7 784.5 555.8 777.7 C560.9 770.9 565.1 767.1 571.0 762.5 C576.9 757.9 584.5 753.0 591.2 749.9 C597.9 746.8 605.9 744.9 611.4 743.6 C616.9 742.3 616.4 742.0 624.0 742.0 C631.6 742.0 644.2 742.9 656.9 743.7 C669.6 744.5 676.1 746.0 700.0 746.8 C723.9 747.6 762.1 747.8 800.0 748.3 C837.9 748.8 906.3 749.3 927.6 749.5" stroke="#ee1c25"/>
</g>
<text class="ttl" transform="translate(664.3 585.8) scale(1.035 1)">Adhesion curves</text>
<circle cx="505.9" cy="498.8" r="30.9" fill="#0a70bd"/>
<text class="badge" transform="translate(505.9 515.9) scale(0.97 1)">D</text>
</svg>
</body></html>
